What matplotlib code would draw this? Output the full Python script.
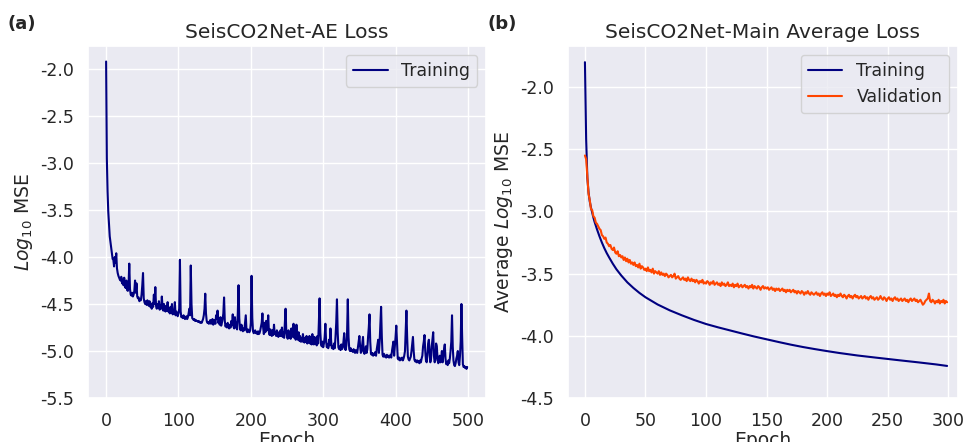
import matplotlib
matplotlib.use("Agg")
import matplotlib.pyplot as plt
import seaborn as sns

# ---------------- data ----------------
ae_train = [
    -1.92, -2.95, -3.30, -3.52, -3.66, -3.78, -3.84, -3.90, -3.96, -4.02,
    -4.03, -4.10, -4.00, -4.06, -3.96, -4.12, -4.17, -4.20, -4.22, -4.24,
    -4.25, -4.21, -4.28, -4.24, -4.30, -4.22, -4.31, -4.33, -4.25, -4.35,
    -4.36, -4.30, -4.07, -4.34, -4.40, -4.41, -4.38, -4.42, -4.40, -4.36,
    -4.25, -4.38, -4.28, -4.42, -4.44, -4.43, -4.47, -4.45, -4.46, -4.40,
    -4.30, -4.17, -4.44, -4.48, -4.50, -4.47, -4.51, -4.46, -4.49, -4.52,
    -4.47, -4.53, -4.50, -4.55, -4.49, -4.53, -4.40, -4.50, -4.32, -4.52,
    -4.55, -4.50, -4.54, -4.47, -4.56, -4.51, -4.55, -4.42, -4.53, -4.57,
    -4.50, -4.56, -4.58, -4.52, -4.57, -4.48, -4.58, -4.55, -4.60, -4.53,
    -4.59, -4.50, -4.61, -4.57, -4.60, -4.48, -4.62, -4.58, -4.61, -4.63,
    -4.60, -4.55, -4.03, -4.58, -4.64, -4.63, -4.65, -4.62, -4.64, -4.66,
    -4.65, -4.63, -4.66, -4.64, -4.60, -4.55, -4.62, -4.09, -4.50, -4.65,
    -4.66, -4.67, -4.66, -4.68, -4.67, -4.68, -4.68, -4.69, -4.68, -4.69,
    -4.70, -4.69, -4.70, -4.68, -4.66, -4.62, -4.55, -4.39, -4.60, -4.68,
    -4.70, -4.69, -4.71, -4.70, -4.67, -4.71, -4.70, -4.66, -4.72, -4.70,
    -4.67, -4.71, -4.62, -4.66, -4.57, -4.70, -4.68, -4.72, -4.64, -4.73,
    -4.70, -4.66, -4.60, -4.43, -4.68, -4.74, -4.72, -4.75, -4.70, -4.74,
    -4.76, -4.72, -4.75, -4.68, -4.72, -4.61, -4.74, -4.76, -4.64, -4.75,
    -4.70, -4.77, -4.60, -4.30, -4.65, -4.76, -4.78, -4.72, -4.77, -4.79,
    -4.76, -4.78, -4.70, -4.62, -4.78, -4.80, -4.77, -4.79, -4.80, -4.78,
    -4.70, -4.20, -4.65, -4.79, -4.81, -4.80, -4.78, -4.81, -4.80, -4.82,
    -4.79, -4.82, -4.81, -4.78, -4.74, -4.70, -4.60, -4.75, -4.82, -4.70,
    -4.80, -4.68, -4.78, -4.75, -4.62, -4.80, -4.83, -4.77, -4.82, -4.84,
    -4.78, -4.83, -4.72, -4.82, -4.80, -4.84, -4.78, -4.83, -4.85, -4.80,
    -4.84, -4.78, -4.84, -4.75, -4.85, -4.80, -4.86, -4.70, -4.55, -4.80,
    -4.85, -4.87, -4.78, -4.86, -4.82, -4.87, -4.76, -4.85, -4.80, -4.71,
    -4.86, -4.74, -4.88, -4.72, -4.85, -4.88, -4.80, -4.89, -4.84, -4.90,
    -4.86, -4.90, -4.82, -4.89, -4.91, -4.86, -4.90, -4.84, -4.92, -4.88,
    -4.91, -4.84, -4.92, -4.86, -4.93, -4.82, -4.90, -4.93, -4.85, -4.92,
    -4.88, -4.94, -4.84, -4.92, -4.70, -4.44, -4.80, -4.93, -4.95, -4.90,
    -4.96, -4.92, -4.85, -4.71, -4.90, -4.96, -4.93, -4.97, -4.88, -4.94,
    -4.76, -4.90, -4.97, -4.95, -4.98, -4.92, -4.97, -4.85, -4.70, -4.45,
    -4.80, -4.96, -4.98, -4.95, -4.99, -4.93, -4.98, -4.96, -4.90, -4.81,
    -4.97, -4.99, -4.94, -4.80, -4.45, -4.85, -4.98, -5.00, -4.97, -5.00,
    -4.99, -5.01, -4.98, -5.00, -5.02, -4.99, -5.01, -5.02, -4.96, -4.90,
    -4.84, -4.95, -5.02, -5.00, -4.92, -4.85, -5.01, -5.03, -5.00, -4.95,
    -5.02, -4.98, -4.85, -4.75, -4.61, -4.90, -5.03, -5.04, -5.02, -5.05,
    -5.03, -5.04, -5.01, -5.05, -4.98, -4.93, -4.88, -5.02, -4.90, -4.70,
    -4.53, -4.85, -5.04, -5.06, -5.03, -5.06, -5.05, -5.07, -5.04, -5.06,
    -5.05, -5.07, -5.06, -5.04, -5.07, -5.00, -4.95, -4.90, -5.05, -4.95,
    -4.85, -4.73, -4.90, -5.08, -5.09, -5.07, -5.10, -5.08, -5.09, -5.07,
    -5.10, -5.08, -5.05, -5.00, -4.80, -4.57, -4.85, -5.06, -5.09, -5.10,
    -5.08, -5.06, -5.00, -4.93, -4.85, -5.00, -5.09, -5.11, -5.10, -5.12,
    -5.10, -5.12, -5.11, -5.13, -5.10, -5.12, -5.08, -5.05, -4.95, -4.90,
    -4.83, -5.00, -5.10, -5.12, -5.05, -4.92, -4.88, -5.00, -5.12, -5.08,
    -4.95, -4.88, -4.80, -5.05, -5.12, -5.10, -4.92, -4.95, -5.08, -5.13,
    -5.10, -5.05, -5.12, -5.08, -5.00, -5.12, -5.05, -4.98, -4.93, -5.08,
    -5.14, -5.12, -5.15, -5.10, -5.13, -5.08, -5.00, -4.90, -4.62, -4.95,
    -5.10, -5.15, -5.16, -5.13, -5.08, -5.05, -5.00, -5.12, -5.15, -5.05,
    -4.90, -4.50, -4.85, -5.14, -5.17, -5.16, -5.18, -5.17, -5.19, -5.17,
]
ae_epochs = list(range(len(ae_train)))

main_train_epochs = [0, 1, 2, 3, 4, 5, 6, 7, 8, 9, 10, 12, 14, 16, 18, 20, 23, 26,
                     30, 35, 40, 45, 50, 60, 70, 80, 90, 100, 110, 120, 130, 140,
                     150, 160, 170, 180, 190, 200, 210, 225, 240, 250, 260, 275,
                     290, 299]
main_train = [-1.80, -2.42, -2.73, -2.85, -2.92, -2.97, -3.01, -3.05, -3.085, -3.115,
              -3.145, -3.20, -3.25, -3.295, -3.335, -3.37, -3.42, -3.465, -3.515,
              -3.57, -3.615, -3.655, -3.69, -3.748, -3.795, -3.835, -3.872, -3.905,
              -3.932, -3.957, -3.982, -4.006, -4.028, -4.05, -4.071, -4.09, -4.107,
              -4.123, -4.138, -4.158, -4.175, -4.186, -4.197, -4.213, -4.23, -4.242]

main_val = [
    -2.55, -2.58, -2.72, -2.86, -2.91, -2.98, -2.99, -3.04, -3.05, -3.09,
    -3.10, -3.12, -3.14, -3.15, -3.19, -3.20, -3.22, -3.21, -3.25, -3.26,
    -3.28, -3.27, -3.30, -3.31, -3.29, -3.33, -3.34, -3.32, -3.36, -3.35,
    -3.37, -3.36, -3.39, -3.37, -3.40, -3.38, -3.41, -3.39, -3.42, -3.41,
    -3.43, -3.41, -3.44, -3.43, -3.45, -3.42, -3.46, -3.44, -3.45, -3.47,
    -3.46, -3.48, -3.45, -3.48, -3.47, -3.49, -3.46, -3.50, -3.48, -3.49,
    -3.50, -3.48, -3.51, -3.49, -3.51, -3.50, -3.52, -3.50, -3.51, -3.53,
    -3.52, -3.51, -3.53, -3.52, -3.50, -3.54, -3.53, -3.52, -3.54, -3.55,
    -3.54, -3.53, -3.55, -3.54, -3.56, -3.53, -3.55, -3.56, -3.54, -3.56,
    -3.55, -3.57, -3.55, -3.56, -3.58, -3.56, -3.57, -3.55, -3.58, -3.57,
    -3.58, -3.56, -3.57, -3.59, -3.57, -3.58, -3.56, -3.59, -3.58, -3.57,
    -3.59, -3.58, -3.60, -3.57, -3.59, -3.58, -3.60, -3.59, -3.57, -3.60,
    -3.59, -3.60, -3.58, -3.61, -3.59, -3.60, -3.58, -3.61, -3.60, -3.59,
    -3.61, -3.60, -3.59, -3.61, -3.60, -3.62, -3.60, -3.61, -3.59, -3.62,
    -3.60, -3.61, -3.62, -3.60, -3.61, -3.63, -3.61, -3.60, -3.62, -3.61,
    -3.62, -3.61, -3.63, -3.62, -3.61, -3.63, -3.62, -3.64, -3.62, -3.63,
    -3.62, -3.64, -3.63, -3.62, -3.64, -3.63, -3.65, -3.63, -3.64, -3.63,
    -3.65, -3.64, -3.63, -3.65, -3.64, -3.66, -3.64, -3.65, -3.66, -3.64,
    -3.65, -3.67, -3.65, -3.66, -3.64, -3.66, -3.67, -3.65, -3.66, -3.67,
    -3.66, -3.65, -3.67, -3.66, -3.68, -3.66, -3.65, -3.67, -3.66, -3.68,
    -3.66, -3.67, -3.65, -3.68, -3.67, -3.66, -3.68, -3.67, -3.69, -3.67,
    -3.68, -3.66, -3.68, -3.69, -3.67, -3.68, -3.70, -3.68, -3.67, -3.69,
    -3.68, -3.70, -3.68, -3.67, -3.69, -3.68, -3.70, -3.69, -3.68, -3.70,
    -3.69, -3.68, -3.70, -3.69, -3.71, -3.69, -3.68, -3.70, -3.69, -3.71,
    -3.70, -3.69, -3.71, -3.70, -3.68, -3.70, -3.71, -3.69, -3.70, -3.72,
    -3.70, -3.69, -3.71, -3.70, -3.72, -3.70, -3.69, -3.71, -3.70, -3.72,
    -3.71, -3.70, -3.72, -3.71, -3.70, -3.72, -3.71, -3.73, -3.71, -3.70,
    -3.72, -3.71, -3.70, -3.72, -3.71, -3.73, -3.72, -3.71, -3.73, -3.75,
    -3.74, -3.72, -3.71, -3.70, -3.66, -3.72, -3.73, -3.71, -3.72, -3.74,
    -3.72, -3.73, -3.71, -3.74, -3.72, -3.73, -3.71, -3.74, -3.72, -3.73,
]
main_val_epochs = list(range(len(main_val)))

ae_xticks = [0, 100, 200, 300, 400, 500]
ae_yticks = [-2.0, -2.5, -3.0, -3.5, -4.0, -4.5, -5.0, -5.5]
main_xticks = [0, 50, 100, 150, 200, 250, 300]
main_yticks = [-2.0, -2.5, -3.0, -3.5, -4.0, -4.5]

# ---------------- style ----------------
sns.set_theme(style="darkgrid")
plt.rcParams['font.family'] = ['DejaVu Sans']
plt.rcParams['axes.unicode_minus'] = False

fig = plt.figure(figsize=(9.63, 4.42), dpi=100)
ax1 = fig.add_axes([0.0914, 0.0995, 0.4133, 0.7964])
ax2 = fig.add_axes([0.5898, 0.0995, 0.4050, 0.7964])

navy = "#000080"
orange = "#FF4500"

# Left panel
ax1.plot(ae_epochs, ae_train, color=navy, lw=1.5, label="Training")
ax1.set_xlim(-25, 525)
ax1.set_ylim(-5.5, -1.755)
ax1.set_xticks(ae_xticks)
ax1.set_yticks(ae_yticks)
ax1.set_yticklabels([f"{v:.1f}" for v in ae_yticks])
ax1.set_title("SeisCO2Net-AE Loss", fontsize=14.5, pad=6)
ax1.set_xlabel("Epoch", fontsize=13.5, labelpad=1)
ax1.set_ylabel(r"$Log_{10}$ MSE", fontsize=13.5, labelpad=4)
ax1.tick_params(labelsize=12.5, pad=4)
ax1.legend(loc="upper right", fontsize=12.5)

# Right panel
ax2.plot(main_train_epochs, main_train, color=navy, lw=1.5, label="Training")
ax2.plot(main_val_epochs, main_val, color=orange, lw=1.5, label="Validation")
ax2.set_xlim(-14, 308)
ax2.set_ylim(-4.49, -1.67)
ax2.set_xticks(main_xticks)
ax2.set_yticks(main_yticks)
ax2.set_yticklabels([f"{v:.1f}" for v in main_yticks])
ax2.set_title("SeisCO2Net-Main Average Loss", fontsize=14.5, pad=6)
ax2.set_xlabel("Epoch", fontsize=13.5, labelpad=1)
ax2.set_ylabel(r"Average $Log_{10}$ MSE", fontsize=13.5, labelpad=4)
ax2.tick_params(labelsize=12.5, pad=4)
ax2.legend(loc="upper right", fontsize=12.5)

fig.text(0.008, 0.935, "(a)", fontsize=13, fontweight="bold")
fig.text(0.506, 0.935, "(b)", fontsize=13, fontweight="bold")

fig.savefig("out.png", dpi=100)
